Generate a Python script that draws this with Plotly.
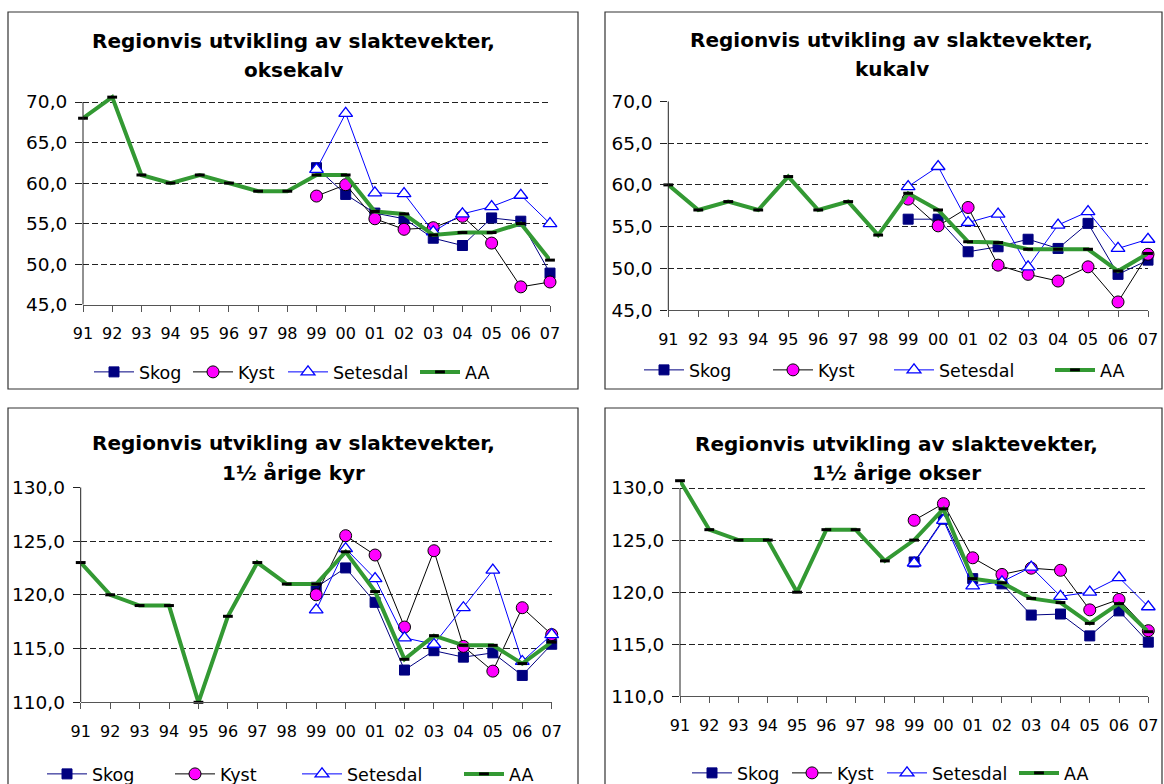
import plotly.graph_objects as go

# ---------------- data ----------------
years = ["91", "92", "93", "94", "95", "96", "97", "98", "99",
         "00", "01", "02", "03", "04", "05", "06", "07"]
region_years = years[8:]
series_names = ["Skog", "Kyst", "Setesdal", "AA"]

title_line1 = "Regionvis utvikling av slaktevekter,"
panel_subtitles = ["oksekalv", "kukalv", "1½ årige kyr", "1½ årige okser"]

# oksekalv
oksekalv_skog = [61.9, 58.6, 56.3, 55.6, 53.2, 52.3, 55.7, 55.3, 48.9]
oksekalv_kyst = [58.4, 59.8, 55.6, 54.3, 54.5, 55.9, 52.6, 47.2, 47.8]
oksekalv_setesdal = [61.7, 68.6, 58.8, 58.7, 54.0, 56.2, 57.1, 58.5, 55.0]
oksekalv_aa = [68, 70.6, 61, 60, 61, 60, 59, 59, 61.0, 61.0, 56.5, 56.2,
               53.6, 53.9, 53.9, 55.0, 50.5]

# kukalv
kukalv_skog = [55.9, 55.9, 52.0, 52.6, 53.5, 52.4, 55.4, 49.3, 51.0]
kukalv_kyst = [58.3, 55.1, 57.3, 50.4, 49.3, 48.5, 50.2, 46.0, 51.7]
kukalv_setesdal = [59.8, 62.2, 55.5, 56.5, 50.2, 55.2, 56.8, 52.4, 53.5]
kukalv_aa = [60, 57, 58, 57, 61, 57, 58, 54, 59.0, 57.0, 53.2, 53.1,
             52.3, 52.3, 52.3, 49.7, 51.8]

# 1½ årige kyr
kyr_skog = [120.7, 122.5, 119.3, 113.0, 114.8, 114.2, 114.6, 112.5, 115.4]
kyr_kyst = [120.0, 125.5, 123.7, 117.0, 124.1, 115.2, 112.9, 118.8, 116.3]
kyr_setesdal = [118.6, 124.3, 121.5, 116.0, 115.4, 118.8, 122.3, 113.8, 116.3]
kyr_aa = [123, 120, 119, 119, 110, 118, 123, 121, 121.0, 124.0, 120.3, 114.0,
          116.2, 115.3, 115.3, 113.6, 115.6]

# 1½ årige okser
okser_skog = [122.9, 127.0, 121.3, 120.8, 117.8, 117.9, 115.8, 118.2, 115.2]
okser_kyst = [126.9, 128.5, 123.3, 121.7, 122.3, 122.1, 118.3, 119.3, 116.3]
okser_setesdal = [122.8, 126.9, 120.6, 121.0, 122.4, 119.6, 120.0, 121.4, 118.6]
okser_aa = [130.7, 126, 125, 125, 120, 126, 126, 123, 125.0, 128.0, 121.3, 120.9,
            119.4, 119.0, 117.0, 118.9, 116.2]

calf_ticks = [45, 50, 55, 60, 65, 70]
calf_ticktext = ["45,0", "50,0", "55,0", "60,0", "65,0", "70,0"]
cattle_ticks = [110, 115, 120, 125, 130]
cattle_ticktext = ["110,0", "115,0", "120,0", "125,0", "130,0"]

panel_data = [
    (oksekalv_skog, oksekalv_kyst, oksekalv_setesdal, oksekalv_aa, calf_ticks, calf_ticktext),
    (kukalv_skog, kukalv_kyst, kukalv_setesdal, kukalv_aa, calf_ticks, calf_ticktext),
    (kyr_skog, kyr_kyst, kyr_setesdal, kyr_aa, cattle_ticks, cattle_ticktext),
    (okser_skog, okser_kyst, okser_setesdal, okser_aa, cattle_ticks, cattle_ticktext),
]

# ---------------- layout geometry (pixels) ----------------
W, H = 1164, 784

def px(x):
    return x / W

def py(y):
    return 1 - y / H

panels = [
    dict(x=(83, 550), y=(304.7, 93.9), rng=(45, 71), frame=(8, 12, 578, 389),
         tcx=293.5, t1=41, t2=70, leg=[113, 212, 307, 439], legy=372),
    dict(x=(668.3, 1148), y=(310.3, 101.3), rng=(45, 70), frame=(605, 12, 1162, 389),
         tcx=891.5, t1=40, t2=69, leg=[663, 792, 913, 1074], legy=370),
    dict(x=(80.7, 551.7), y=(702.3, 487.3), rng=(110, 130), frame=(8, 408, 578, 800),
         tcx=293.5, t1=443, t2=473, leg=[66, 194, 321, 483], legy=774),
    dict(x=(680, 1148.3), y=(696.3, 477.6), rng=(110, 131), frame=(605, 408, 1162, 800),
         tcx=896, t1=444, t2=473, leg=[711, 811, 906, 1038], legy=773),
]

FONT = "DejaVu Sans"
GREEN = "#339933"
ITEMW = 40

fig = go.Figure()
layout = dict(
    width=W, height=H, margin=dict(l=0, r=0, t=0, b=0, autoexpand=False),
    paper_bgcolor="white", plot_bgcolor="white",
    font=dict(family=FONT, size=17, color="black"),
    showlegend=True,
)
shapes = []
annotations = []

legend_counter = 0
for i, (p, d) in enumerate(zip(panels, panel_data)):
    skog, kyst, setesdal, aa, ticks, ticktext = d
    ax = "" if i == 0 else str(i + 1)
    xa, ya = "x" + ax, "y" + ax

    styles = [
        dict(x=region_years, y=skog, line=dict(color="#000080", width=1),
             marker=dict(symbol="square", size=10, color="#000080",
                         line=dict(color="#000080", width=1))),
        dict(x=region_years, y=kyst, line=dict(color="black", width=1),
             marker=dict(symbol="circle", size=12, color="#FF00FF",
                         line=dict(color="black", width=1))),
        dict(x=region_years, y=setesdal, line=dict(color="#0000FF", width=1),
             marker=dict(symbol="triangle-up", size=12, color="white",
                         line=dict(color="#0000FF", width=1.3))),
        dict(x=years, y=aa, line=dict(color=GREEN, width=4),
             marker=dict(symbol="line-ew", size=7,
                         line=dict(color="black", width=3))),
    ]
    for k, (name, st) in enumerate(zip(series_names, styles)):
        legend_counter += 1
        lname = "legend" if legend_counter == 1 else "legend%d" % legend_counter
        fig.add_trace(go.Scatter(
            x=st["x"], y=st["y"], name=name, mode="lines+markers",
            line=st["line"], marker=st["marker"], cliponaxis=False,
            xaxis=xa, yaxis=ya, legend=lname, showlegend=True,
        ))
        layout[lname] = dict(
            x=px(p["leg"][k] - (ITEMW / 2 + 4)), xanchor="left",
            y=py(p["legy"]), yanchor="middle",
            orientation="h", bgcolor="rgba(0,0,0,0)", borderwidth=0,
            font=dict(family=FONT, size=17.5, color="black"),
            itemwidth=ITEMW,
        )

    layout["xaxis" + ax] = dict(
        domain=[px(p["x"][0]), px(p["x"][1])], anchor=ya,
        type="category", categoryorder="array", categoryarray=years,
        range=[0, len(years) - 1], showgrid=False, zeroline=False,
        showline=True, linecolor="#555", linewidth=1,
        ticks="outside", ticklen=6, tickcolor="#555", tickwidth=1,
        tickfont=dict(family=FONT, size=16, color="black"),
        ticklabelstandoff=8, fixedrange=True,
    )
    layout["yaxis" + ax] = dict(
        domain=[py(p["y"][0]), py(p["y"][1])], anchor=xa,
        range=list(p["rng"]), tickvals=ticks, ticktext=ticktext,
        showgrid=True, gridcolor="#222", gridwidth=1, griddash="6px,3px",
        zeroline=False, showline=False,
        ticks="outside", ticklen=7, tickcolor="#222", tickwidth=1,
        tickfont=dict(family=FONT, size=18.5, color="black"),
        ticklabelstandoff=4, fixedrange=True,
    )
    # y axis line from first to last tick
    shapes.append(dict(type="line", xref=xa + " domain", yref=ya,
                       x0=0, x1=0, y0=ticks[0], y1=ticks[-1],
                       line=dict(color="#222", width=1)))
    # chart frame
    fx0, fy0, fx1, fy1 = p["frame"]
    shapes.append(dict(type="rect", xref="paper", yref="paper",
                       x0=px(fx0), x1=px(fx1), y0=py(fy1), y1=py(fy0),
                       line=dict(color="#333", width=1.2), layer="below"))
    annotations.append(dict(text="<b>" + title_line1 + "</b>", xref="paper", yref="paper",
                            x=px(p["tcx"]), y=py(p["t1"]), xanchor="center", yanchor="middle",
                            showarrow=False, font=dict(family=FONT, size=20, color="black")))
    annotations.append(dict(text="<b>" + panel_subtitles[i] + "</b>", xref="paper", yref="paper",
                            x=px(p["tcx"]), y=py(p["t2"]), xanchor="center", yanchor="middle",
                            showarrow=False, font=dict(family=FONT, size=20, color="black")))

layout["shapes"] = shapes
layout["annotations"] = annotations
fig.update_layout(**layout)
fig.write_html(
    "out.html",
    config={"displayModeBar": False},
    post_script="document.body.style.margin='0';document.body.style.overflow='hidden';",
)
